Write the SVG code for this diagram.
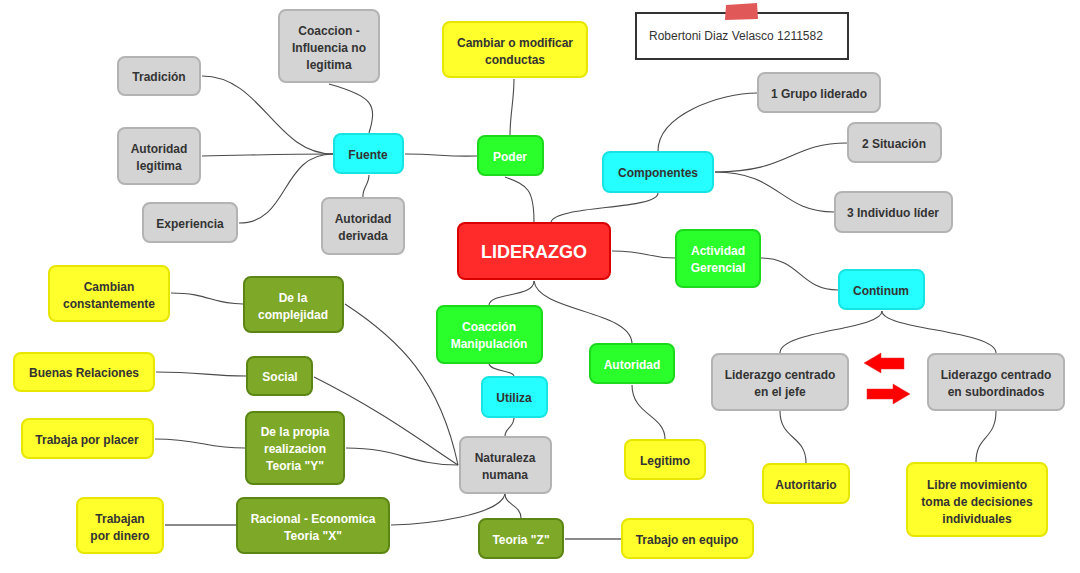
<svg xmlns="http://www.w3.org/2000/svg" width="1080" height="573" viewBox="0 0 1080 573">
<style>
text{font-family:"Liberation Sans",Arial,sans-serif;font-size:12px;font-weight:bold;text-anchor:middle;fill:#333;transform:translateY(1px)}
.w{fill:#fff}
rect{stroke-width:2}
.g{fill:#d4d4d4;stroke:#b3b3b3}
.c{fill:#25ffff;stroke:#18e3e3}
.n{fill:#2bff2b;stroke:#1cd91c}
.y{fill:#ffff2b;stroke:#e6e600}
.o{fill:#7ea828;stroke:#5c8613}
.r{fill:#ff2a2a;stroke:#d90000}
#connectors path{fill:none;stroke:#4a4a4a;stroke-width:1.1}
#connectors path.s{stroke:#8a8a8a;stroke-width:2}
</style>
<rect width="1080" height="573" fill="#fff" stroke="none"/>
<g id="connectors">
<path d="M202,76 C262,76 275,154 333,154"/>
<path d="M202,156 C260,155 280,154 333,154"/>
<path d="M239,223 C290,223 280,154 333,154"/>
<path d="M329,84 C372,96 378,104 369,133"/>
<path d="M369,175 C369,185 362,188 363,197"/>
<path d="M405,154 C440,154 445,157 477,156"/>
<path d="M514,79 C514,100 510,115 510,135"/>
<path d="M505,177 C528,185 534,190 534,222"/>
<path d="M658,193 C658,210 556,205 551,222"/>
<path d="M658,151 C658,115 720,93 757,93"/>
<path d="M715,172 C790,172 790,143 847,143"/>
<path d="M715,172 C780,172 780,212 834,212"/>
<path d="M612,251 C650,251 645,258 675,258"/>
<path d="M761,258 C800,258 800,290 838,290"/>
<path d="M882,311 C882,330 780,330 780,353"/>
<path d="M882,311 C882,330 996,330 996,353"/>
<path d="M780,411 C780,440 806,435 806,463"/>
<path d="M996,411 C996,440 976,435 976,462"/>
<path d="M534,281 C534,298 490,292 489,305"/>
<path d="M534,281 C538,312 630,310 632,343"/>
<path d="M489,364 C492,372 513,370 514,376"/>
<path d="M514,418 C514,427 505,428 505,436"/>
<path d="M632,385 C632,415 665,415 665,439"/>
<path d="M505,494 C505,505 521,505 521,518"/>
<path class="s" d="M565,539 L621,539"/>
<path d="M505,494 C500,515 430,524 391,525"/>
<path d="M345,304 C400,340 440,380 458,465"/>
<path d="M314,377 C380,410 420,440 458,465"/>
<path d="M346,448 C400,448 410,465 458,465"/>
<path d="M171,293 C210,293 210,304 243,304"/>
<path d="M156,372 C200,372 210,376 246,376"/>
<path d="M155,439 C200,439 205,448 245,448"/>
<path class="s" d="M165,525 L236,525"/>
</g>
<g id="note">
<rect x="636" y="13" width="212" height="46" fill="#fff" stroke="#333"/>
<polygon points="726,5 757,3 758,19 725,20" fill="#e05858"/>
<text x="649" y="39" style="font-weight:normal;text-anchor:start;fill:#333">Robertoni Diaz Velasco 1211582</text>
</g>
<g id="coaccion"><rect class="g" x="279" y="10" width="100" height="72" rx="7"/><text x="329" y="34">Coaccion -</text><text x="329" y="51">Influencia no</text><text x="329" y="68">legitima</text></g>
<g id="tradicion"><rect class="g" x="118" y="57" width="82" height="38" rx="7"/><text x="159" y="80">Tradición</text></g>
<g id="autoridad-legitima"><rect class="g" x="118" y="128" width="82" height="56" rx="7"/><text x="159" y="152">Autoridad</text><text x="159" y="169">legitima</text></g>
<g id="experiencia"><rect class="g" x="143" y="203" width="94" height="39" rx="7"/><text x="190" y="227">Experiencia</text></g>
<g id="fuente"><rect class="c" x="334" y="134" width="69" height="39" rx="7"/><text x="368" y="158">Fuente</text></g>
<g id="autoridad-derivada"><rect class="g" x="322" y="198" width="82" height="56" rx="7"/><text x="363" y="222">Autoridad</text><text x="363" y="239">derivada</text></g>
<g id="cambiar"><rect class="y" x="443" y="22" width="144" height="55" rx="7"/><text x="515" y="46">Cambiar o modificar</text><text x="515" y="63">conductas</text></g>
<g id="poder"><rect class="n" x="478" y="136" width="65" height="39" rx="7"/><text class="w" x="510" y="160">Poder</text></g>
<g id="componentes"><rect class="c" x="603" y="152" width="110" height="40" rx="7"/><text x="658" y="176">Componentes</text></g>
<g id="grupo"><rect class="g" x="758" y="73" width="122" height="39" rx="7"/><text x="819" y="97">1 Grupo liderado</text></g>
<g id="situacion"><rect class="g" x="848" y="123" width="93" height="39" rx="7"/><text x="894" y="147">2 Situación</text></g>
<g id="individuo"><rect class="g" x="835" y="192" width="117" height="40" rx="7"/><text x="893" y="216">3 Individuo líder</text></g>
<g id="liderazgo"><rect class="r" x="458" y="223" width="152" height="56" rx="7"/><text class="w" x="534" y="257" style="font-size:18px">LIDERAZGO</text></g>
<g id="actividad"><rect class="n" x="676" y="230" width="84" height="57" rx="7"/><text class="w" x="718" y="254">Actividad</text><text class="w" x="718" y="271">Gerencial</text></g>
<g id="continum"><rect class="c" x="839" y="270" width="85" height="39" rx="7"/><text x="881" y="294">Continum</text></g>
<g id="jefe"><rect class="g" x="712" y="354" width="136" height="56" rx="7"/><text x="780" y="378">Liderazgo centrado</text><text x="780" y="395">en el jefe</text></g>
<g id="subordinados"><rect class="g" x="928" y="354" width="136" height="56" rx="7"/><text x="996" y="378">Liderazgo centrado</text><text x="996" y="395">en subordinados</text></g>
<g id="flechas">
<polygon points="864,363 881,353 881,358 904,358 904,369 881,369 881,373" fill="#f00" stroke="#e03030" stroke-width="0.5"/>
<polygon points="910,394 893,384 893,389 867,389 867,399 893,399 893,404" fill="#f00" stroke="#e03030" stroke-width="0.5"/>
</g>
<g id="autoritario"><rect class="y" x="763" y="464" width="86" height="39" rx="7"/><text x="806" y="488">Autoritario</text></g>
<g id="libre"><rect class="y" x="907" y="463" width="140" height="73" rx="7"/><text x="977" y="488">Libre movimiento</text><text x="977" y="505">toma de decisiones</text><text x="977" y="522">individuales</text></g>
<g id="coaccion-manipulacion"><rect class="n" x="437" y="306" width="105" height="57" rx="7"/><text class="w" x="489" y="330">Coacción</text><text class="w" x="489" y="347">Manipulación</text></g>
<g id="utiliza"><rect class="c" x="482" y="377" width="65" height="40" rx="7"/><text x="514" y="401">Utiliza</text></g>
<g id="autoridad"><rect class="n" x="590" y="344" width="84" height="39" rx="7"/><text class="w" x="632" y="368">Autoridad</text></g>
<g id="naturaleza"><rect class="g" x="460" y="437" width="91" height="56" rx="7"/><text x="505" y="461">Naturaleza</text><text x="505" y="478">numana</text></g>
<g id="legitimo"><rect class="y" x="625" y="440" width="80" height="39" rx="7"/><text x="665" y="464">Legitimo</text></g>
<g id="teoria-z"><rect class="o" x="479" y="519" width="84" height="39" rx="7"/><text class="w" x="521" y="543">Teoria "Z"</text></g>
<g id="trabajo-equipo"><rect class="y" x="622" y="519" width="131" height="39" rx="7"/><text x="687" y="543">Trabajo en equipo</text></g>
<g id="cambian"><rect class="y" x="49" y="266" width="120" height="55" rx="7"/><text x="109" y="290">Cambian</text><text x="109" y="307">constantemente</text></g>
<g id="complejidad"><rect class="o" x="244" y="277" width="99" height="55" rx="7"/><text class="w" x="293" y="301">De la</text><text class="w" x="293" y="318">complejidad</text></g>
<g id="buenas"><rect class="y" x="14" y="353" width="140" height="38" rx="7"/><text x="84" y="376">Buenas Relaciones</text></g>
<g id="social"><rect class="o" x="247" y="357" width="65" height="38" rx="7"/><text class="w" x="280" y="380">Social</text></g>
<g id="placer"><rect class="y" x="22" y="419" width="131" height="39" rx="7"/><text x="87" y="443">Trabaja por placer</text></g>
<g id="teoria-y"><rect class="o" x="246" y="412" width="98" height="72" rx="7"/><text class="w" x="295" y="435">De la propia</text><text class="w" x="295" y="452">realizacion</text><text class="w" x="295" y="469">Teoria "Y"</text></g>
<g id="dinero"><rect class="y" x="77" y="498" width="86" height="55" rx="7"/><text x="120" y="522">Trabajan</text><text x="120" y="539">por dinero</text></g>
<g id="teoria-x"><rect class="o" x="237" y="498" width="152" height="55" rx="7"/><text class="w" x="313" y="522">Racional - Economica</text><text class="w" x="313" y="539">Teoria "X"</text></g>
</svg>
